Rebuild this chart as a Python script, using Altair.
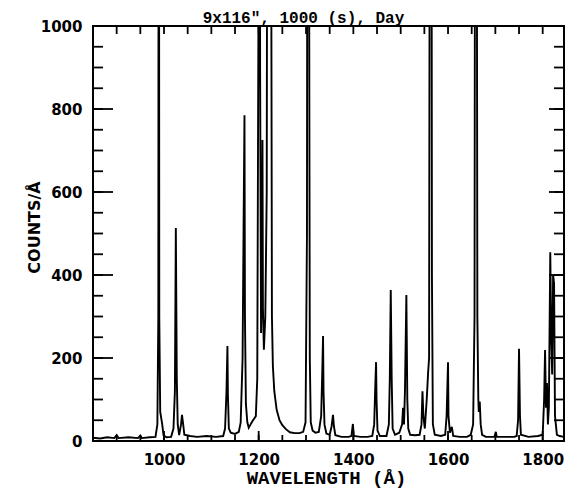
import altair as alt
import pandas as pd

# Spectrum vertices (wavelength in Å, counts per Å)
wavelength = [
    850, 865, 880, 895, 900, 904, 925, 945, 950, 953, 970, 982, 986, 988, 989, 990, 992, 996, 999,
    1005, 1015, 1020, 1023, 1025, 1027, 1029, 1032, 1036, 1038, 1040, 1043, 1055, 1070, 1090, 1110,
    1125, 1129, 1132, 1134, 1135, 1137, 1141, 1150, 1158, 1162, 1166, 1168, 1170, 1171, 1173, 1176,
    1179, 1183, 1187, 1191, 1194, 1197, 1200, 1202, 1203, 1205, 1207, 1208, 1209, 1211, 1214, 1217,
    1220, 1223, 1226, 1228, 1230, 1233, 1238, 1244, 1250, 1258, 1266, 1276, 1286, 1294, 1299, 1302,
    1304, 1306, 1308, 1310, 1314, 1320, 1327, 1332, 1334, 1336, 1337, 1339, 1343, 1350, 1354, 1357,
    1359, 1362, 1375, 1390, 1396, 1399, 1401, 1415, 1430, 1440, 1444, 1446, 1448, 1449, 1451, 1456,
    1470, 1475, 1477, 1479, 1481, 1483, 1488, 1497, 1503, 1505, 1507, 1509, 1512, 1514, 1516, 1520,
    1530, 1540, 1544, 1546, 1548, 1551, 1555, 1558, 1560, 1562, 1564, 1566, 1568, 1572, 1585, 1594,
    1597, 1600, 1601, 1604, 1608, 1611, 1625, 1640, 1648, 1653, 1656, 1658, 1660, 1662, 1664, 1665,
    1667, 1669, 1672, 1680, 1698, 1701, 1703, 1720, 1740, 1745, 1748, 1750, 1752, 1754, 1770, 1790,
    1800, 1803, 1805, 1807, 1809, 1811, 1813, 1816, 1818, 1820, 1822, 1824, 1826, 1830, 1836, 1845,
]
counts = [
    8, 6, 9, 7, 14, 7, 9, 7, 13, 7, 9, 10, 40, 300, 2500, 300, 70, 42, 14,
    9, 10, 30, 120, 513, 150, 40, 14, 40, 63, 45, 15, 12, 10, 12, 10,
    12, 30, 120, 229, 110, 30, 20, 17, 22, 45, 200, 500, 785, 300, 90, 45,
    32, 40, 48, 55, 60, 150, 1200, 2500, 900, 260, 450, 725, 320, 220, 300, 600,
    3000, 5000, 1500, 300, 180, 120, 75, 50, 38, 28, 21, 19, 19, 22, 45, 500,
    3000, 1500, 200, 45, 25, 20, 22, 60, 150, 253, 120, 40, 18, 15, 35, 63,
    35, 14, 10, 10, 12, 41, 12, 10, 10, 12, 40, 120, 190, 100, 25, 12,
    12, 40, 150, 364, 150, 30, 15, 20, 40, 80, 40, 120, 352, 100, 30, 15,
    14, 15, 40, 120, 60, 30, 100, 166, 200, 2000, 3000, 400, 40, 15, 12, 15,
    60, 190, 60, 20, 34, 12, 10, 10, 15, 40, 300, 2500, 2000, 300, 100, 70,
    95, 40, 15, 10, 10, 22, 10, 10, 10, 12, 50, 222, 60, 15, 10, 12,
    15, 100, 219, 80, 140, 40, 80, 455, 250, 160, 400, 380, 60, 15, 12, 10,
]

# Axis tick values
x_labels = [1000, 1200, 1400, 1600, 1800]
x_minor = list(range(850, 1850, 50))
y_labels = [0, 200, 400, 600, 800, 1000]
y_minor = list(range(0, 1001, 50))

W, H = 471, 415

df = pd.DataFrame({"wl": wavelength, "c": counts})
xmaj = pd.DataFrame({"wl": x_labels})
xmin = pd.DataFrame({"wl": x_minor})
ymaj = pd.DataFrame({"c": y_labels})
ymin = pd.DataFrame({"c": y_minor})

xs = alt.Scale(domain=[850, 1845], nice=False, zero=False)
ys = alt.Scale(domain=[0, 1000], nice=False)

line = alt.Chart(df).mark_line(color="black", strokeWidth=1.9, clip=True).encode(
    x=alt.X("wl:Q", scale=xs, axis=alt.Axis(
        orient="bottom", values=x_labels, format="d", ticks=False, labelPadding=11,
        title="WAVELENGTH (Å)", titleFont="Liberation Mono", titleFontSize=19,
        titleFontWeight="bold", titleX=233, titleY=42, titleBaseline="alphabetic",
        titleAlign="center")),
    y=alt.Y("c:Q", scale=ys, axis=alt.Axis(
        orient="left", values=y_labels, format="d", ticks=False, labelPadding=11,
        title="COUNTS/Å", titleFont="DejaVu Sans", titleFontSize=16,
        titleFontWeight="bold", titleX=-59, titleY=201, titleAngle=270,
        titleBaseline="middle", titleAlign="center")),
)

tick_style = dict(color="black", strokeWidth=1.8)

left_major = alt.Chart(ymaj).mark_rule(**tick_style).encode(
    y=alt.Y("c:Q", scale=ys, axis=None), x=alt.value(0), x2=alt.value(20))
left_minor = alt.Chart(ymin).mark_rule(**tick_style).encode(
    y=alt.Y("c:Q", scale=ys, axis=None), x=alt.value(0), x2=alt.value(10))
right_major = alt.Chart(ymaj).mark_rule(**tick_style).encode(
    y=alt.Y("c:Q", scale=ys, axis=None), x=alt.value(W - 15), x2=alt.value(W))
right_minor = alt.Chart(ymin).mark_rule(**tick_style).encode(
    y=alt.Y("c:Q", scale=ys, axis=None), x=alt.value(W - 10), x2=alt.value(W))
top_minor = alt.Chart(xmin).mark_rule(**tick_style).encode(
    x=alt.X("wl:Q", scale=xs, axis=None), y=alt.value(0), y2=alt.value(8))
bottom_minor = alt.Chart(xmin).mark_rule(**tick_style).encode(
    x=alt.X("wl:Q", scale=xs, axis=None), y=alt.value(H - 6), y2=alt.value(H))
bottom_major = alt.Chart(xmaj).mark_rule(**tick_style).encode(
    x=alt.X("wl:Q", scale=xs, axis=None), y=alt.value(H - 10), y2=alt.value(H))

chart = (
    alt.layer(line, left_major, left_minor, right_major, right_minor,
              top_minor, bottom_minor, bottom_major)
    .resolve_axis(x="independent", y="independent")
    .properties(
        width=W, height=H,
        autosize=alt.AutoSizeParams(type="none"),
        padding={"left": 93, "top": 26, "right": 5, "bottom": 53},
        title=alt.TitleParams(
            text='9x116", 1000 (s), Day', font="Liberation Mono", fontSize=16,
            fontWeight="bold", color="black", dx=-25, dy=24, offset=4, frame="group",
            baseline="alphabetic"),
        background="white",
    )
    .configure_view(stroke="black", strokeWidth=2)
    .configure_axis(
        domain=False, grid=False,
        labelFont="DejaVu Sans", labelFontSize=15, labelFontWeight="bold",
        labelColor="black", titleColor="black",
    )
)

chart.save("out.html", embed_options={"renderer": "svg", "actions": False})
